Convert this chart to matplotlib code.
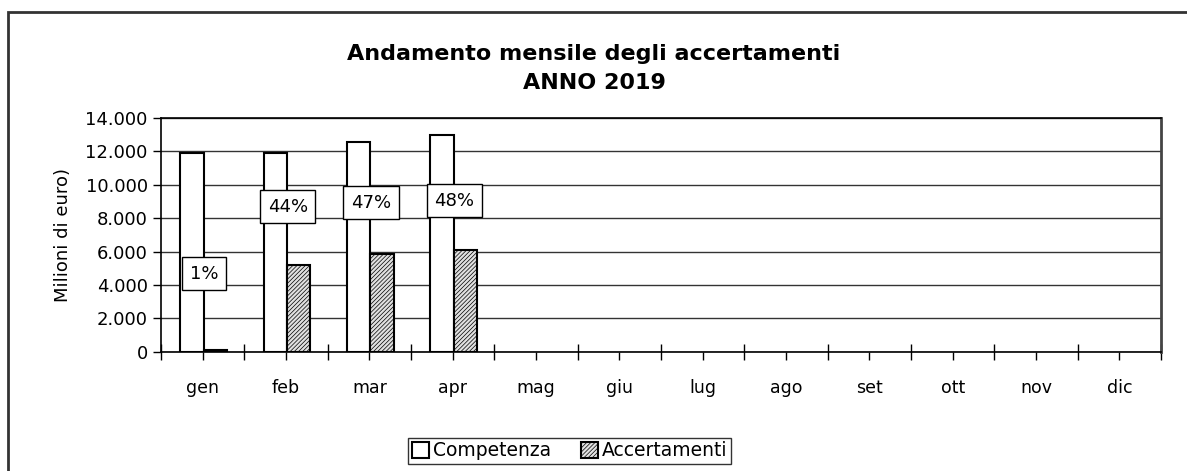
import matplotlib.pyplot as plt
import matplotlib.patches as mpatches
from matplotlib.ticker import FuncFormatter, MultipleLocator
import numpy as np

months = ['gen', 'feb', 'mar', 'apr', 'mag', 'giu', 'lug', 'ago', 'set', 'ott', 'nov', 'dic']
competenza = [11900, 11900, 12550, 12980]
accertamenti = [120, 5200, 5860, 6120]
pct_labels = ['1%', '44%', '47%', '48%']
pct_label_y = [4660, 8680, 8920, 9040]

plt.rcParams['font.family'] = ['DejaVu Sans']
plt.rcParams['hatch.linewidth'] = 0.5
plt.rcParams['hatch.color'] = '#909090'

fig = plt.figure(figsize=(11.87, 4.71), dpi=100)

# outer chart border (right and bottom edges fall outside the image)
fig.patches.append(mpatches.Rectangle((8 / 1187, -0.05), 1.2, 1 - 12 / 471 + 0.05,
                                      transform=fig.transFigure, fill=False,
                                      edgecolor='#333333', linewidth=2))

ax = fig.add_axes([161 / 1187, 1 - 351.7 / 471, 1000 / 1187, (351.7 - 118) / 471])

w = 0.28
x = np.arange(len(competenza))
ax.bar(x - w / 2 + 0.01, competenza, w, color='white', edgecolor='black', linewidth=1.5, zorder=3,
       label='Competenza')
ax.bar(x + w / 2 + 0.01, accertamenti, w, color='#e0e0e0', edgecolor='black', linewidth=1.5,
       hatch='////////', zorder=3, label='Accertamenti')

for xi, txt, yi in zip(x, pct_labels, pct_label_y):
    ax.text(xi + 0.02, yi, txt, ha='center', va='center', fontsize=13, zorder=5,
            bbox=dict(boxstyle='square,pad=0.42', facecolor='white', edgecolor='black', linewidth=1))

ax.set_xlim(-0.5, len(months) - 0.5)
ax.set_ylim(0, 14000)
ax.yaxis.set_major_locator(MultipleLocator(2000))
ax.yaxis.set_major_formatter(FuncFormatter(lambda v, p: f'{int(v):,}'.replace(',', '.')))
ax.grid(axis='y', color='#333333', linewidth=1, zorder=1)

ax.set_xticks(np.arange(len(months) + 1) - 0.5)
ax.set_xticklabels([])
ax.set_xticks(np.arange(len(months)), minor=True)
ax.set_xticklabels(months, minor=True)
ax.tick_params(axis='x', which='major', direction='inout', length=12, width=1)
ax.tick_params(axis='x', which='minor', direction='out', length=6, width=1, labelsize=12.5, pad=14)
ax.tick_params(axis='y', direction='out', length=6, width=1, labelsize=13)

for s in ax.spines.values():
    s.set_color('black')
    s.set_linewidth(1.2)
ax.spines['right'].set_color('#444444')
ax.spines['right'].set_linewidth(2)

ax.set_ylabel('Milioni di euro)', fontsize=13, labelpad=10)

fig.text(594 / 1187, 1 - 68.5 / 471, 'Andamento mensile degli accertamenti\nANNO 2019',
         ha='center', va='center', fontsize=16, fontweight='bold', linespacing=1.62)

leg = ax.legend(loc='center', bbox_to_anchor=(569.5 / 1187, 1 - 451 / 471),
                bbox_transform=fig.transFigure, ncol=2, frameon=True, fancybox=False,
                fontsize=13.5, handlelength=0.9, handleheight=0.9, handletextpad=0.2,
                columnspacing=1.6, borderpad=0.2, borderaxespad=0)
leg.get_frame().set_edgecolor('black')
leg.get_frame().set_linewidth(1)
leg._legend_box.sep = 6

fig.savefig('out.png', dpi=100)
